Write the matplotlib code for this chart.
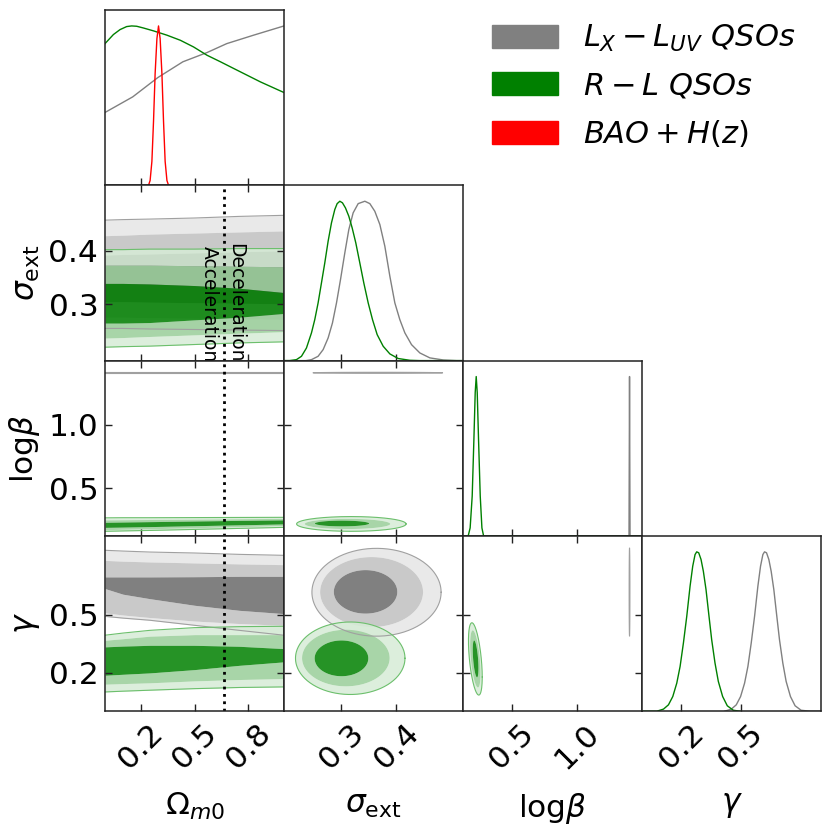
"""
Triangle plot of the Omega_m0 / sigma_ext / log(beta) / gamma posteriors.
"""

import numpy as np
import matplotlib.pyplot as plt
from matplotlib.patches import Patch, PathPatch
from matplotlib.path import Path

plt.rcParams['mathtext.fontset'] = 'dejavusans'

# ---- 1D marginals (peak normalised to 1) ----
om_green_x = [0.0, 0.047, 0.084, 0.121, 0.149, 0.177, 0.215, 0.271, 0.346, 0.421, 0.495,
              0.570, 0.645, 0.719, 0.868, 1.0]
om_green_p = [0.889, 0.946, 0.977, 0.996, 1.0, 0.998, 0.987, 0.969, 0.942, 0.910, 0.868,
              0.816, 0.775, 0.733, 0.649, 0.582]
om_gray_x = [0.0, 0.155, 0.295, 0.435, 0.570, 0.680, 0.830, 1.0]
om_gray_p = [0.457, 0.555, 0.676, 0.775, 0.833, 0.889, 0.942, 1.0]
om_red_x = [0.243, 0.252, 0.262, 0.271, 0.280, 0.290, 0.299, 0.308, 0.318, 0.327, 0.336, 0.346, 0.355]
om_red_p = [0.0, 0.03, 0.15, 0.40, 0.70, 0.92, 1.0, 0.92, 0.70, 0.40, 0.15, 0.03, 0.0]

sig_green_x = [0.195, 0.2055, 0.2177, 0.2269, 0.2360, 0.2452, 0.2512, 0.2573, 0.2634, 0.2695,
               0.2756, 0.2817, 0.2878, 0.2921, 0.2970, 0.3018, 0.3073, 0.3134, 0.3195, 0.3262,
               0.3335, 0.3408, 0.3488, 0.3567, 0.3652, 0.3762, 0.3884, 0.4036, 0.4249, 0.4432, 0.522]
sig_green_p = [0, 0, 0.006, 0.027, 0.079, 0.174, 0.257, 0.362, 0.487, 0.613,
               0.749, 0.864, 0.948, 0.985, 1.0, 0.990, 0.958, 0.906, 0.833, 0.738,
               0.613, 0.487, 0.362, 0.257, 0.163, 0.090, 0.042, 0.013, 0.002, 0, 0]
sig_gray_x = [0.195, 0.235, 0.2452, 0.2573, 0.2665, 0.2756, 0.2835, 0.2909, 0.2982, 0.3061,
              0.3134, 0.3213, 0.3305, 0.3427, 0.3518, 0.3609, 0.3701, 0.3792, 0.3884, 0.3975,
              0.4066, 0.4158, 0.4280, 0.4432, 0.4615, 0.4859, 0.5102, 0.522]
sig_gray_p = [0, 0, 0.006, 0.027, 0.069, 0.142, 0.236, 0.362, 0.508, 0.676,
              0.822, 0.927, 0.985, 1.0, 0.985, 0.937, 0.854, 0.718, 0.529, 0.362,
              0.257, 0.174, 0.100, 0.048, 0.017, 0.004, 0, 0]

lb_green_x = [0.125, 0.1649, 0.180, 0.1958, 0.2087, 0.219, 0.2267, 0.2345, 0.2448, 0.2577, 0.2706, 0.2835, 1.5]
lb_green_p = [0, 0, 0.05, 0.25, 0.6, 0.9, 1.0, 0.9, 0.6, 0.25, 0.05, 0, 0]
lb_gray_x = [1.403, 1.405, 1.407, 1.409, 1.411]
lb_gray_p = [0, 0.5, 1.0, 0.5, 0]

gam_green_x = [0.003, 0.0777, 0.1112, 0.1363, 0.1581, 0.1782, 0.1950, 0.2117, 0.2285, 0.2452,
               0.2586, 0.2704, 0.2787, 0.2888, 0.3005, 0.3122, 0.3256, 0.3407, 0.3541, 0.3709,
               0.3876, 0.4094, 0.4328, 0.4630, 0.4965]
gam_green_p = [0, 0, 0.013, 0.040, 0.092, 0.176, 0.281, 0.428, 0.595, 0.784,
               0.910, 0.983, 1.0, 0.994, 0.952, 0.878, 0.763, 0.595, 0.449, 0.302,
               0.187, 0.092, 0.034, 0.006, 0]
gam_gray_x = [0.4194, 0.4529, 0.4781, 0.4998, 0.5199, 0.5367, 0.5534, 0.5702, 0.5869, 0.6003,
              0.6121, 0.6204, 0.6305, 0.6422, 0.6539, 0.6673, 0.6824, 0.6958, 0.7126, 0.7293,
              0.7511, 0.7745, 0.8047, 0.8482, 0.905]
gam_gray_p = [0, 0.013, 0.040, 0.092, 0.176, 0.281, 0.428, 0.595, 0.784, 0.910,
              0.983, 1.0, 0.994, 0.952, 0.878, 0.763, 0.595, 0.449, 0.302, 0.187,
              0.092, 0.034, 0.006, 0, 0]

# ---- 2D bands in the Omega_m0 column: (lower, upper) per level ----
om_band = [0.0, 0.1, 0.25, 0.5, 0.75, 1.0]

om_sig_gray = {
    'dark': ([0.305, 0.305, 0.304, 0.303, 0.302, 0.301], [0.392, 0.393, 0.394, 0.396, 0.398, 0.400]),
    'mid': ([0.276, 0.276, 0.275, 0.274, 0.273, 0.272], [0.428, 0.429, 0.431, 0.433, 0.435, 0.437]),
    'light': ([0.255, 0.255, 0.254, 0.253, 0.252, 0.251], [0.457, 0.458, 0.459, 0.461, 0.464, 0.466]),
}
om_sig_green = {
    'dark': ([0.265, 0.265, 0.266, 0.271, 0.276, 0.283], [0.339, 0.339, 0.338, 0.335, 0.330, 0.322]),
    'mid': ([0.237, 0.238, 0.240, 0.243, 0.246, 0.249], [0.373, 0.373, 0.373, 0.372, 0.371, 0.370]),
    'light': ([0.220, 0.221, 0.222, 0.225, 0.228, 0.230], [0.402, 0.402, 0.403, 0.403, 0.404, 0.404]),
}
om_lb_gray = ([1.403] * 6, [1.411] * 6)
om_lb_green = {
    'dark': ([0.192, 0.194, 0.198, 0.205, 0.212, 0.219], [0.232, 0.234, 0.237, 0.242, 0.247, 0.251]),
    'mid': ([0.174, 0.177, 0.181, 0.189, 0.198, 0.206], [0.251, 0.252, 0.254, 0.257, 0.260, 0.263]),
    'light': ([0.161, 0.164, 0.168, 0.176, 0.184, 0.192], [0.267, 0.268, 0.268, 0.269, 0.270, 0.271]),
}
om_gam_gray = {
    'dark': ([0.634, 0.605, 0.582, 0.548, 0.522, 0.505], [0.694, 0.694, 0.694, 0.695, 0.697, 0.697]),
    'mid': ([0.509, 0.498, 0.485, 0.467, 0.454, 0.445], [0.779, 0.775, 0.771, 0.766, 0.761, 0.757]),
    'light': ([0.491, 0.482, 0.471, 0.445, 0.419, 0.394], [0.831, 0.827, 0.822, 0.817, 0.810, 0.805]),
}
om_gam_green = {
    'dark': ([0.188, 0.193, 0.200, 0.217, 0.239, 0.257], [0.334, 0.338, 0.342, 0.342, 0.337, 0.325]),
    'mid': ([0.142, 0.145, 0.149, 0.159, 0.166, 0.171], [0.368, 0.376, 0.389, 0.397, 0.397, 0.397]),
    'light': ([0.102, 0.106, 0.111, 0.119, 0.125, 0.128], [0.394, 0.405, 0.419, 0.433, 0.438, 0.440]),
}

# ---- 2D ellipses: (centre x, centre y, half-width x, half-width y, correlation) ----
sig_lb_green = {'dark': (0.301, 0.2225, 0.0495, 0.0225, 0.0),
                'mid': (0.311, 0.219, 0.078, 0.040, 0.0),
                'light': (0.318, 0.219, 0.100, 0.058, 0.0)}
sig_lb_gray = (0.3665, 1.407, 0.1185, 0.004, 0.0)
lb_gam_green = {'dark': (0.222, 0.272, 0.022, 0.095, -0.5),
                'mid': (0.220, 0.272, 0.040, 0.147, -0.5),
                'light': (0.220, 0.272, 0.053, 0.186, -0.5)}
lb_gam_gray = (1.407, 0.616, 0.003, 0.227, 0.0)
sig_gam_gray = {'dark': (0.344, 0.617, 0.058, 0.112, 0.0),
                'mid': (0.355, 0.616, 0.094, 0.180, 0.0),
                'light': (0.364, 0.615, 0.118, 0.226, 0.0)}
sig_gam_green = {'dark': (0.300, 0.275, 0.049, 0.092, 0.0),
                 'mid': (0.308, 0.2765, 0.080, 0.1455, 0.0),
                 'light': (0.316, 0.2755, 0.100, 0.1865, 0.0)}

names = ['om', 'sig', 'lb', 'gam']
axis_labels = [r'$\Omega_{m0}$', r'$\sigma_{\rm ext}$', r'log$\beta$', r'$\gamma$']
lims = {'om': (0.0, 1.0), 'sig': (0.195, 0.522), 'lb': (0.125, 1.503), 'gam': (0.003, 0.905)}
ticks = {'om': [0.2, 0.5, 0.8], 'sig': [0.3, 0.4], 'lb': [0.5, 1.0], 'gam': [0.2, 0.5]}

legend_labels = [r'$L_X-L_{UV}\ QSOs$', r'$R-L\ QSOs$', r'$BAO+H(z)$']

GRAY = '#808080'
GREEN = '#008000'
RED = '#ff0000'
gray_fill = {'light': '#e9e9e9', 'mid': '#c9c9c9', 'dark': '#808080'}
green_fill = {'light': '#d6ecd6', 'mid': '#99ce99', 'dark': '#008000'}
GREEN_ALPHA = 0.85
gray_edge = '#a0a0a0'
green_edge = '#6cbf6c'


def ellipse_xy(cx, cy, hx, hy, rho, n=240):
    t = np.linspace(0, 2 * np.pi, n)
    x = cx + hx * np.cos(t)
    y = cy + hy * (rho * np.cos(t) + np.sqrt(1 - rho ** 2) * np.sin(t))
    return np.column_stack([x, y])


def ring_patch(outer, inner, **kw):
    if inner is None:
        verts = outer
        codes = [Path.MOVETO] + [Path.LINETO] * (len(outer) - 1)
    else:
        inner = inner[::-1]
        verts = np.concatenate([outer, inner])
        codes = ([Path.MOVETO] + [Path.LINETO] * (len(outer) - 1)
                 + [Path.MOVETO] + [Path.LINETO] * (len(inner) - 1))
    return PathPatch(Path(verts, codes), **kw)


def draw_ellipses(ax, levels, fills, edge, alpha):
    order = ['light', 'mid', 'dark']
    for k, lev in enumerate(order):
        outer = ellipse_xy(*levels[lev])
        inner = ellipse_xy(*levels[order[k + 1]]) if k < 2 else None
        ax.add_patch(ring_patch(outer, inner, facecolor=fills[lev], edgecolor='none',
                                lw=0, alpha=alpha))
    outer = ellipse_xy(*levels['light'])
    ax.plot(outer[:, 0], outer[:, 1], color=edge, lw=0.8)


def draw_bands(ax, bands, fills, edge, alpha):
    x = om_band
    lo_l, hi_l = bands['light']
    lo_m, hi_m = bands['mid']
    lo_d, hi_d = bands['dark']
    kw = dict(lw=0, alpha=alpha)
    ax.fill_between(x, lo_l, lo_m, color=fills['light'], **kw)
    ax.fill_between(x, hi_m, hi_l, color=fills['light'], **kw)
    ax.fill_between(x, lo_m, lo_d, color=fills['mid'], **kw)
    ax.fill_between(x, hi_d, hi_m, color=fills['mid'], **kw)
    ax.fill_between(x, lo_d, hi_d, color=fills['dark'], **kw)
    ax.plot(x, lo_l, color=edge, lw=0.8)
    ax.plot(x, hi_l, color=edge, lw=0.8)


W, H = 831, 833
fig = plt.figure(figsize=(W / 100, H / 100), dpi=100)
left0, top0, pw, ph = 105, 10, 179, 175.3

axes = {}
for i in range(4):
    for j in range(i + 1):
        ax = fig.add_axes([(left0 + j * pw) / W, 1 - (top0 + (i + 1) * ph) / H, pw / W, ph / H])
        axes[i, j] = ax
        for s in ax.spines.values():
            s.set_linewidth(1.1)
            s.set_color('#222222')
        ax.set_xlim(lims[names[j]])
        ax.set_xticks(ticks[names[j]])
        ax.tick_params(direction='in', length=5, width=1, labelsize=22.5, color='#222222')
        ax.tick_params(axis='x', pad=5)
        ax.tick_params(axis='y', pad=4.8)
        if i == j:
            ax.set_ylim(0, 1.1)
            ax.set_yticks([])
            ax.tick_params(top=False)
        else:
            ax.set_ylim(lims[names[i]])
            ax.set_yticks(ticks[names[i]])
            ax.tick_params(top=True, right=True)
        if i == 3:
            ax.set_xticklabels([f'{t:.1f}' for t in ticks[names[j]]], rotation=45)
            ax.set_xlabel(axis_labels[j], fontsize=22.5)
            ax.xaxis.set_label_coords(0.5, -0.456)
        else:
            ax.tick_params(labelbottom=False)
        if j == 0 and i > 0:
            ax.set_yticklabels([f'{t:.1f}' for t in ticks[names[i]]])
            ax.set_ylabel(axis_labels[i], fontsize=22.5)
            ax.yaxis.set_label_coords(-0.352, 0.5)
        else:
            ax.tick_params(labelleft=False)

# diagonal: 1D marginals
ax = axes[0, 0]
ax.plot(om_gray_x, om_gray_p, color=GRAY, lw=1)
ax.plot(om_green_x, om_green_p, color=GREEN, lw=1)
ax.plot(om_red_x, om_red_p, color=RED, lw=1)
ax = axes[1, 1]
ax.plot(sig_gray_x, sig_gray_p, color=GRAY, lw=1)
ax.plot(sig_green_x, sig_green_p, color=GREEN, lw=1)
ax = axes[2, 2]
ax.plot(lb_gray_x, lb_gray_p, color=GRAY, lw=1)
ax.plot(lb_green_x, lb_green_p, color=GREEN, lw=1)
ax = axes[3, 3]
ax.plot(gam_gray_x, gam_gray_p, color=GRAY, lw=1)
ax.plot(gam_green_x, gam_green_p, color=GREEN, lw=1)

# Omega_m0 column
draw_bands(axes[1, 0], om_sig_gray, gray_fill, gray_edge, 1.0)
draw_bands(axes[1, 0], om_sig_green, green_fill, green_edge, GREEN_ALPHA)
axes[2, 0].fill_between(om_band, om_lb_gray[0], om_lb_gray[1], color=gray_fill['mid'], lw=0)
axes[2, 0].plot(om_band, om_lb_gray[0], color=gray_edge, lw=0.8)
axes[2, 0].plot(om_band, om_lb_gray[1], color=gray_edge, lw=0.8)
draw_bands(axes[2, 0], om_lb_green, green_fill, green_edge, GREEN_ALPHA)
draw_bands(axes[3, 0], om_gam_gray, gray_fill, gray_edge, 1.0)
draw_bands(axes[3, 0], om_gam_green, green_fill, green_edge, GREEN_ALPHA)

# other 2D panels
gxy = ellipse_xy(*sig_lb_gray)
axes[2, 1].fill(gxy[:, 0], gxy[:, 1], color=gray_fill['mid'], ec=gray_edge, lw=0.8)
draw_ellipses(axes[2, 1], sig_lb_green, green_fill, green_edge, GREEN_ALPHA)
draw_ellipses(axes[3, 1], sig_gam_gray, gray_fill, gray_edge, 1.0)
draw_ellipses(axes[3, 1], sig_gam_green, green_fill, green_edge, GREEN_ALPHA)
gxy = ellipse_xy(*lb_gam_gray)
axes[3, 2].fill(gxy[:, 0], gxy[:, 1], color=gray_fill['mid'], ec=gray_edge, lw=0.8)
draw_ellipses(axes[3, 2], lb_gam_green, green_fill, green_edge, GREEN_ALPHA)

# deceleration / acceleration boundary
for i in (1, 2, 3):
    axes[i, 0].axvline(2 / 3, color='black', ls=':', lw=2)
axes[1, 0].text(0.583, 0.409, 'Acceleration', rotation=270, ha='center', va='top', fontsize=13.5)
axes[1, 0].text(0.728, 0.415, 'Deceleration', rotation=270, ha='center', va='top', fontsize=13.5)

handles = [Patch(color=GRAY), Patch(color=GREEN), Patch(color=RED)]
fig.legend(handles, legend_labels, loc='upper left', bbox_to_anchor=(491.7 / W, 1 - 23 / H),
           frameon=False, fontsize=22, handlelength=2.16, handleheight=0.78,
           handletextpad=0.83, labelspacing=0.57, borderpad=0, borderaxespad=0)

fig.savefig('out.png', dpi=100)
